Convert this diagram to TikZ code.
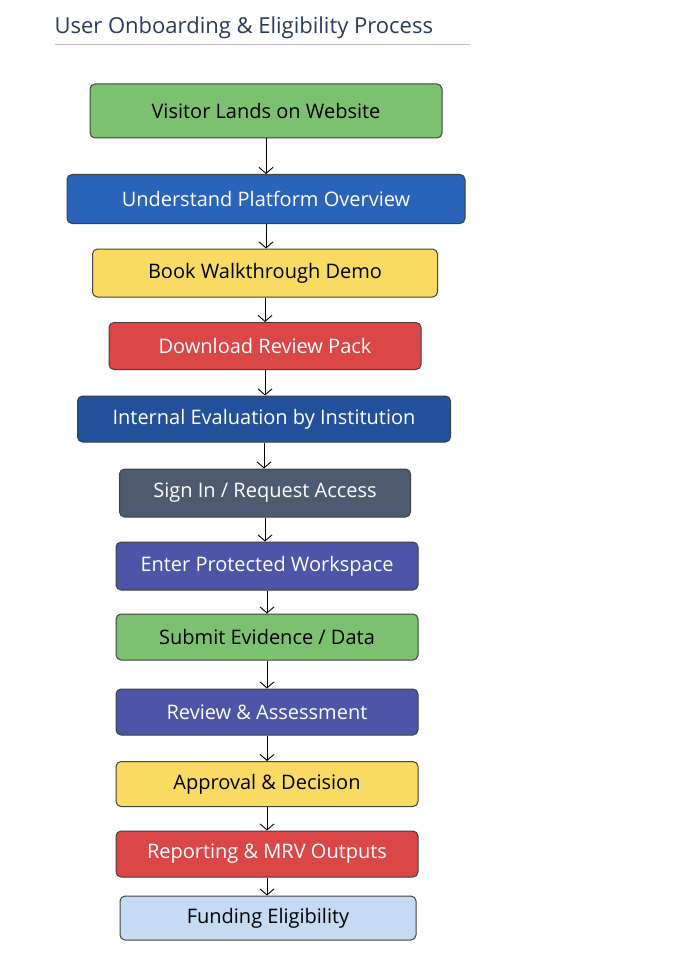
\documentclass[tikz,border=0pt]{standalone}
\usepackage{fontspec}
\setmainfont{Open Sans}
\usepackage{tikz}
\usetikzlibrary{arrows.meta}
\definecolor{stepgreen}{HTML}{7BC16F}
\definecolor{stepblue}{HTML}{2B63B8}
\definecolor{stepyellow}{HTML}{F9DA63}
\definecolor{stepred}{HTML}{DB4747}
\definecolor{stepnavy}{HTML}{23509A}
\definecolor{stepslate}{HTML}{4D5A70}
\definecolor{stepindigo}{HTML}{4C55A8}
\definecolor{steplight}{HTML}{C4DBF3}
\definecolor{titleblue}{HTML}{2A3A5A}
\tikzset{
    stage/.style={draw=black!75, line width=1pt, rounded corners=5pt,
        font=\fontsize{20}{24}\selectfont, inner sep=0pt},
    dark/.style={stage, text=white},
    flow/.style={-{Straight Barb[length=6pt,width=14pt]}, line width=0.9pt}
}
\begin{document}
\begin{tikzpicture}[x=1pt,y=-1pt]
                \useasboundingbox (0,0) rectangle (685,960);
                % Title
                \node[anchor=west, text=titleblue, font=\fontsize{22}{26}\selectfont] (title) at (51,28) {User Onboarding \& Eligibility Process};
                \draw[black!25, line width=0.8pt] (55,44) -- (470,44);

                % Stages
                \node[stage, fill=stepgreen, minimum width=352, minimum height=54] (visit) at (266,111) {Visitor Lands on Website};
                \node[dark, fill=stepblue, minimum width=398, minimum height=49] (overview) at (266,199) {Understand Platform Overview};
                \node[stage, fill=stepyellow, minimum width=345, minimum height=48] (demo) at (265,273) {Book Walkthrough Demo};
                \node[dark, fill=stepred, minimum width=312, minimum height=47] (pack) at (265,346) {Download Review Pack};
                \node[dark, fill=stepnavy, minimum width=373, minimum height=46] (eval) at (264,419) {Internal Evaluation by Institution};
                \node[dark, fill=stepslate, minimum width=291, minimum height=48] (signin) at (265,493) {Sign In / Request Access};
                \node[dark, fill=stepindigo, minimum width=302, minimum height=48] (work) at (267,566) {Enter Protected Workspace};
                \node[stage, fill=stepgreen, minimum width=302, minimum height=46] (submit) at (267,637) {Submit Evidence / Data};
                \node[dark, fill=stepindigo, minimum width=302, minimum height=46] (review) at (267,712) {Review \& Assessment};
                \node[stage, fill=stepyellow, minimum width=302, minimum height=45] (approve) at (267,784) {Approval \& Decision};
                \node[dark, fill=stepred, minimum width=302, minimum height=46] (report) at (267,854) {Reporting \& MRV Outputs};
                \node[stage, fill=steplight, minimum width=296, minimum height=44] (fund) at (268,918) {Funding Eligibility};

                % Connectors
                \foreach \a/\b in {visit/overview, overview/demo, demo/pack, pack/eval, eval/signin,
                    signin/work, work/submit, submit/review, review/approve, approve/report, report/fund} {
                    \draw[flow] (\a.south) -- (\a.south |- \b.north);
                }
            \end{tikzpicture}
\end{document}
